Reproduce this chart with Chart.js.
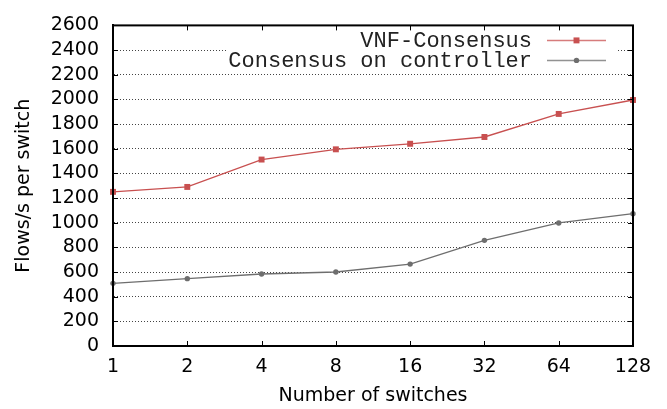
<!DOCTYPE html>
<html>
<head>
<meta charset="utf-8">
<script src="https://cdn.jsdelivr.net/npm/chart.js@4/dist/chart.umd.min.js"></script>
<style>
  html, body { margin: 0; padding: 0; background: #fff; }
  #wrap { width: 667px; height: 409px; }
</style>
</head>
<body>
<div id="wrap"><canvas id="chart" width="667" height="409"></canvas></div>
<script>
// --- data ---
const switchCounts = ['1', '2', '4', '8', '16', '32', '64', '128'];
const vnfConsensus = [1250, 1290, 1512, 1595, 1640, 1695, 1882, 1995];
const controllerConsensus = [508, 546, 584, 600, 664, 857, 998, 1073];
const yMax = 2600;
const yStep = 200;

const RED = '#c85050';
const GRAY = '#6e6e6e';
const FONT = 'DejaVu Sans';

const seriesStyle = [
  { label: 'VNF-Consensus', color: RED, pointStyle: 'rect', radius: 4.2 },
  { label: 'Consensus on controller', color: GRAY, pointStyle: 'circle', radius: 2.7 },
];

// gnuplot-like frame: closed box plus inward tick marks on all four sides
const framePlugin = {
  id: 'frame',
  afterDatasetsDraw(chart) {
    const { ctx, chartArea: a, scales } = chart;
    const len = 5;
    ctx.save();
    ctx.strokeStyle = '#000';
    ctx.lineWidth = 1;
    ctx.beginPath();
    scales.x.ticks.forEach((t, i) => {
      const x = Math.round(scales.x.getPixelForTick(i)) + 0.5;
      ctx.moveTo(x, a.bottom);
      ctx.lineTo(x, a.bottom - len);
      ctx.moveTo(x, a.top);
      ctx.lineTo(x, a.top + len);
    });
    scales.y.ticks.forEach((t, i) => {
      const y = Math.round(scales.y.getPixelForTick(i)) + 0.5;
      ctx.moveTo(a.left, y);
      ctx.lineTo(a.left + len, y);
      ctx.moveTo(a.right, y);
      ctx.lineTo(a.right - len, y);
    });
    ctx.stroke();
    ctx.lineWidth = 2;
    ctx.strokeRect(a.left, a.top, a.right - a.left, a.bottom - a.top);
    ctx.restore();
  },
};

// key in the top right corner: text first, then the sample line
const keyPlugin = {
  id: 'gnuplotKey',
  afterDatasetsDraw(chart) {
    const { ctx, chartArea: a } = chart;
    const textRight = a.right - 101;
    const lineL = a.right - 86;
    const lineR = a.right - 27;
    const rowY = [a.top + 15, a.top + 35];
    ctx.save();
    ctx.fillStyle = '#fff';
    ctx.fillRect(a.left + 114, a.top + 5, a.right - a.left - 129, 40);
    ctx.font = '22px "Liberation Mono"';
    ctx.textAlign = 'right';
    ctx.textBaseline = 'middle';
    seriesStyle.forEach((s, i) => {
      const y = rowY[i];
      const cx = (lineL + lineR) / 2;
      ctx.fillStyle = '#222';
      ctx.fillText(s.label, textRight, y + 1);
      ctx.strokeStyle = s.color;
      ctx.lineWidth = 1.5;
      ctx.globalAlpha = 0.75;
      ctx.beginPath();
      ctx.moveTo(lineL, y);
      ctx.lineTo(lineR, y);
      ctx.stroke();
      ctx.globalAlpha = 1;
      ctx.fillStyle = s.color;
      ctx.beginPath();
      if (s.pointStyle === 'rect') {
        const h = s.radius * Math.SQRT1_2;
        ctx.rect(cx - h, y - h, 2 * h, 2 * h);
      } else {
        ctx.arc(cx, y, s.radius, 0, Math.PI * 2);
      }
      ctx.fill();
    });
    ctx.restore();
  },
};

new Chart(document.getElementById('chart'), {
  type: 'line',
  data: {
    labels: switchCounts,
    datasets: [vnfConsensus, controllerConsensus].map((d, i) => ({
      label: seriesStyle[i].label,
      data: d,
      borderColor: seriesStyle[i].color,
      backgroundColor: seriesStyle[i].color,
      borderWidth: 1.3,
      pointStyle: seriesStyle[i].pointStyle,
      pointRadius: seriesStyle[i].radius,
      pointBorderWidth: 0,
      tension: 0,
      clip: false,
    })),
  },
  options: {
    responsive: false,
    animation: false,
    layout: { padding: { top: 13, right: 34, left: 0, bottom: 0 } },
    plugins: { legend: { display: false }, tooltip: { enabled: false } },
    scales: {
      x: {
        type: 'category',
        offset: false,
        grid: { display: false, drawTicks: false },
        border: { display: true, color: '#000', width: 2 },
        ticks: {
          color: '#000',
          padding: 10,
          maxRotation: 0,
          autoSkip: false,
          font: { family: FONT, size: 19 },
        },
        title: {
          display: true,
          text: 'Number of switches',
          color: '#000',
          padding: { top: 0, bottom: 2 },
          font: { family: FONT, size: 19 },
        },
        afterFit(scale) { scale.height = 63; },
      },
      y: {
        min: 0,
        max: yMax,
        grid: { color: '#444', lineWidth: 1, drawTicks: false },
        border: { display: true, color: '#000', width: 2, dash: [1, 2] },
        ticks: {
          stepSize: yStep,
          autoSkip: false,
          color: '#000',
          padding: 14,
          font: { family: FONT, size: 19 },
          callback: (v) => String(v),
        },
        title: {
          display: true,
          text: 'Flows/s per switch',
          color: '#000',
          padding: { top: 13, bottom: 0 },
          font: { family: FONT, size: 19 },
        },
        afterFit(scale) { scale.width = 113; },
      },
    },
  },
  plugins: [keyPlugin, framePlugin],
});
</script>
</body>
</html>
